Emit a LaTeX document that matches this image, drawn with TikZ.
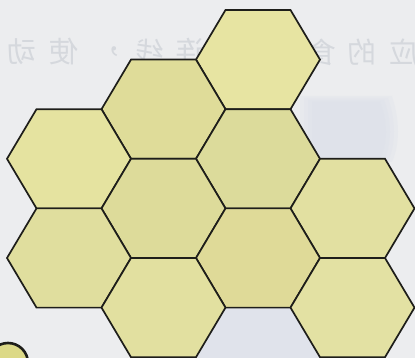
\documentclass[tikz,border=0pt]{standalone}
\usepackage{fontspec}
\newfontfamily\cjk{Noto Sans CJK SC}
\usepackage{graphicx}
\definecolor{bgcol}{HTML}{ECEDEF}
\definecolor{bgpatch}{HTML}{DCE0EA}
\definecolor{ghosttext}{HTML}{D5D8DD}
\definecolor{hexline}{HTML}{1E1E1A}
\definecolor{hexA}{HTML}{E7E4A2}
\definecolor{hexB}{HTML}{DFDC99}
\definecolor{hexC}{HTML}{E5E3A0}
\definecolor{hexD}{HTML}{DCDB9B}
\definecolor{hexE}{HTML}{DDDB9A}
\definecolor{hexF}{HTML}{E2E0A1}
\definecolor{hexG}{HTML}{E0DE9E}
\definecolor{hexH}{HTML}{DFDA98}
\definecolor{hexI}{HTML}{E2E0A0}
\definecolor{hexJ}{HTML}{E3E1A3}
\definecolor{circfill}{HTML}{DCD987}
\begin{document}
\begin{tikzpicture}[x=1pt,y=-1pt,
  hexcell/.style={draw=hexline, line width=1.7pt, line join=miter},
  ghost/.style={text=ghosttext, font=\cjk\fontsize{29}{29}\selectfont, inner sep=0pt}]
\fill[bgcol] (0,0) rectangle (415,358);
\useasboundingbox (0,0) rectangle (415,358);
% faint background patches (soft, layered)
\foreach \d in {0,4,8,12}
  \fill[bgpatch, opacity=0.25] ({300+\d},{96+\d*0.5}) -- ({392-\d},{96+\d*0.5}) .. controls ({400-\d},120) and ({400-\d},145) .. ({392-\d},{162-\d*0.3}) -- ({300+\d},{162-\d*0.3}) -- cycle;
\fill[bgpatch, opacity=0.7] (225,308) -- (290,308) -- (320,358) -- (196,358) -- cycle;
% show-through mirrored text
\foreach \ch/\x [count=\i] in {动/22, 使/64, ，/107, 线/150, 连/190, 食/322, 的/362, 应/404}
  \node[ghost] (g\i) at (\x,52) {\reflectbox{\ch}};
% hexagons
\foreach \n/\cx/\cy in {A/258/59.6, B/163.5/109.2, C/69/158.8, D/258/158.8, E/163.5/208.4,
                        F/352.5/208.4, G/69/258, H/258/258, I/163.5/307.6, J/352.5/307.6}
  \draw[hexcell, fill=hex\n] ({\cx-62},\cy) -- ({\cx-32.5},{\cy-49.6}) -- ({\cx+32.5},{\cy-49.6})
      -- ({\cx+62},\cy) -- ({\cx+32.5},{\cy+49.6}) -- ({\cx-32.5},{\cy+49.6}) -- cycle;
% corner circle
\draw[hexline, line width=2.6pt, fill=circfill] (8,363) circle[radius=20pt];
\end{tikzpicture}
\end{document}
